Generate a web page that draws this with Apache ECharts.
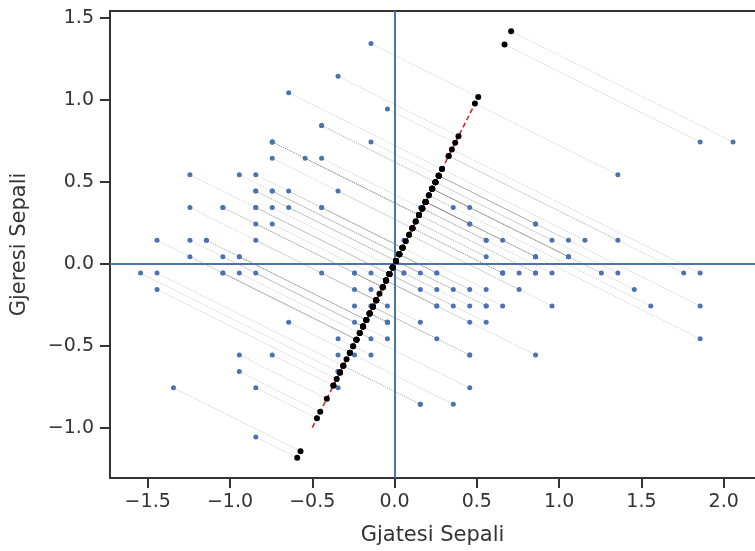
<!DOCTYPE html>
<html>
<head>
<meta charset="utf-8">
<script src="https://cdn.jsdelivr.net/npm/echarts@6/dist/echarts.min.js"></script>
<style>html,body{margin:0;padding:0;background:#fff;}#chart{width:755px;height:551px;}</style>
</head>
<body>
<div id="chart"></div>
<script>
// Iris sepal measurements (cm)
const sepalLength = [
  5.1,4.9,4.7,4.6,5.0,5.4,4.6,5.0,4.4,4.9, 5.4,4.8,4.8,4.3,5.8,5.7,5.4,5.1,5.7,5.1,
  5.4,5.1,4.6,5.1,4.8,5.0,5.0,5.2,5.2,4.7, 4.8,5.4,5.2,5.5,4.9,5.0,5.5,4.9,4.4,5.1,
  5.0,4.5,4.4,5.0,5.1,4.8,5.1,4.6,5.3,5.0,
  7.0,6.4,6.9,5.5,6.5,5.7,6.3,4.9,6.6,5.2, 5.0,5.9,6.0,6.1,5.6,6.7,5.6,5.8,6.2,5.6,
  5.9,6.1,6.3,6.1,6.4,6.6,6.8,6.7,6.0,5.7, 5.5,5.5,5.8,6.0,5.4,6.0,6.7,6.3,5.6,5.5,
  5.5,6.1,5.8,5.0,5.6,5.7,5.7,6.2,5.1,5.7,
  6.3,5.8,7.1,6.3,6.5,7.6,4.9,7.3,6.7,7.2, 6.5,6.4,6.8,5.7,5.8,6.4,6.5,7.7,7.7,6.0,
  6.9,5.6,7.7,6.3,6.7,7.2,6.2,6.1,6.4,7.2, 7.4,7.9,6.4,6.3,6.1,7.7,6.3,6.4,6.0,6.9,
  6.7,6.9,5.8,6.8,6.7,6.7,6.3,6.5,6.2,5.9
];
const sepalWidth = [
  3.5,3.0,3.2,3.1,3.6,3.9,3.4,3.4,2.9,3.1, 3.7,3.4,3.0,3.0,4.0,4.4,3.9,3.5,3.8,3.8,
  3.4,3.7,3.6,3.3,3.4,3.0,3.4,3.5,3.4,3.2, 3.1,3.4,4.1,4.2,3.1,3.2,3.5,3.6,3.0,3.4,
  3.5,2.3,3.2,3.5,3.8,3.0,3.8,3.2,3.7,3.3,
  3.2,3.2,3.1,2.3,2.8,2.8,3.3,2.4,2.9,2.7, 2.0,3.0,2.2,2.9,2.9,3.1,3.0,2.7,2.2,2.5,
  3.2,2.8,2.5,2.8,2.9,3.0,2.8,3.0,2.9,2.6, 2.4,2.4,2.7,2.7,3.0,3.4,3.1,2.3,3.0,2.5,
  2.6,3.0,2.6,2.3,2.7,3.0,2.9,2.9,2.5,2.8,
  3.3,2.7,3.0,2.9,3.0,3.0,2.5,2.9,2.5,3.6, 3.2,2.7,3.0,2.5,2.8,3.2,3.0,3.8,2.6,2.2,
  3.2,2.8,2.8,2.7,3.3,3.2,2.8,3.0,2.8,3.0, 2.8,3.8,2.8,2.8,2.6,3.0,3.4,3.1,3.0,3.1,
  3.1,3.1,2.7,3.2,3.3,3.0,2.5,3.0,3.4,3.0
];
// direction of the projection line (red dashed), and its drawn extent
const lineDirection = [1, 2];
const lineEnds = [[-0.5, -1.0], [0.5, 1.0]];
const xTicks = [-1.5, -1.0, -0.5, 0.0, 0.5, 1.0, 1.5, 2.0];
const yTicks = [-1.0, -0.5, 0.0, 0.5, 1.0, 1.5];
const xLabel = 'Gjatesi Sepali';
const yLabel = 'Gjeresi Sepali';

const mean = a => a.reduce((s, v) => s + v, 0) / a.length;
const mx = mean(sepalLength), my = mean(sepalWidth);
const points = sepalLength.map((v, i) => [v - mx, sepalWidth[i] - my]);
const dd = lineDirection[0] ** 2 + lineDirection[1] ** 2;
const proj = points.map(p => {
  const t = (p[0] * lineDirection[0] + p[1] * lineDirection[1]) / dd;
  return [t * lineDirection[0], t * lineDirection[1]];
});
const segs = points.map((p, i) => ({ coords: [p, proj[i]] }));

const fmt = v => (v < 0 ? '\u2212' : '') + Math.abs(v).toFixed(1);
const FONT = 'DejaVu Sans';
const DARK = '#333333';
const TXT = '#333333';

const chart = echarts.init(document.getElementById('chart'), null, { renderer: 'canvas' });
chart.setOption({
  animation: false,
  backgroundColor: '#ffffff',
  grid: { left: 110, right: 0, top: 11, bottom: 70, containLabel: false },
  xAxis: [{
    type: 'value', min: -1.729, max: 2.19,
    axisLine: { show: true, onZero: false, lineStyle: { color: DARK, width: 2 } },
    axisTick: { show: true, length: 10, lineStyle: { color: DARK, width: 2 }, customValues: xTicks },
    axisLabel: { customValues: xTicks, formatter: fmt, color: TXT, fontFamily: FONT, fontSize: 19, margin: 15 },
    splitLine: { show: false },
    name: xLabel, nameLocation: 'middle', nameGap: 47,
    nameTextStyle: { color: TXT, fontFamily: FONT, fontSize: 21 }
  }, {
    type: 'value', position: 'top', min: -1.729, max: 2.19,
    axisLine: { show: true, onZero: false, lineStyle: { color: DARK, width: 2 } },
    axisTick: { show: false }, axisLabel: { show: false }, splitLine: { show: false }
  }],
  yAxis: [{
    type: 'value', min: -1.307, max: 1.541,
    axisLine: { show: true, onZero: false, lineStyle: { color: DARK, width: 2 } },
    axisTick: { show: true, length: 10, lineStyle: { color: DARK, width: 2 }, customValues: yTicks },
    axisLabel: { customValues: yTicks, formatter: fmt, color: TXT, fontFamily: FONT, fontSize: 19, margin: 16 },
    splitLine: { show: false },
    name: yLabel, nameLocation: 'middle', nameGap: 80,
    nameTextStyle: { color: TXT, fontFamily: FONT, fontSize: 21 }
  }],
  series: [
    {
      type: 'lines', coordinateSystem: 'cartesian2d', xAxisIndex: 0, yAxisIndex: 0,
      silent: true, z: 1,
      lineStyle: { color: 'rgba(70,70,70,0.55)', width: 0.9, type: [1.3, 1.1] },
      data: segs
    },
    {
      type: 'line', data: [], z: 2, silent: true,
      markLine: {
        silent: true, symbol: 'none', label: { show: false },
        lineStyle: { color: '#4c72b0', width: 2, type: 'solid' },
        data: [{ xAxis: 0 }, { yAxis: 0 }]
      }
    },
    {
      type: 'scatter', data: points, symbol: 'circle', symbolSize: 5, z: 3,
      itemStyle: { color: '#4c72b0', opacity: 1 }
    },
    {
      type: 'line', data: lineEnds, symbol: 'none', z: 4,
      lineStyle: { color: '#d62728', width: 1.6, type: [5, 3] }
    },
    {
      type: 'scatter', data: proj, symbol: 'circle', symbolSize: 6, z: 5,
      itemStyle: { color: '#000000', opacity: 1 }
    }
  ]
});
</script>
</body>
</html>
